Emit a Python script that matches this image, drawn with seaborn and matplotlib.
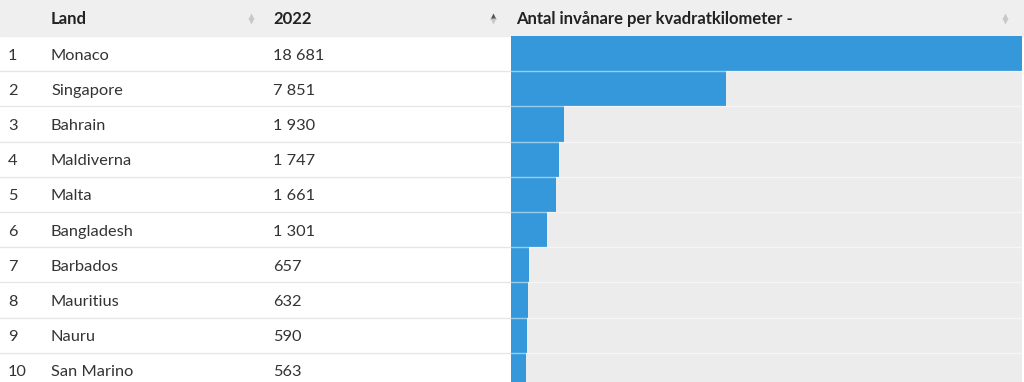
import matplotlib
matplotlib.use("Agg")
import matplotlib.pyplot as plt
from matplotlib.patches import Rectangle
import seaborn as sns

# Data
ranks = [1, 2, 3, 4, 5, 6, 7, 8, 9, 10]
countries = ["Monaco", "Singapore", "Bahrain", "Maldiverna", "Malta",
             "Bangladesh", "Barbados", "Mauritius", "Nauru", "San Marino"]
density = [18681, 7851, 1930, 1747, 1661, 1301, 657, 632, 590, 563]
headers = ["Land", "2022", "Antal invånare per kvadratkilometer -"]

sns.set_theme(style="white")
plt.rcParams['font.family'] = ['Lato', 'DejaVu Sans']

W, H = 1024, 382
head_h = 36
row_h = 35.2
bar_color = "#3498db"
text_color = "#333333"
fs_head = 12
fs_body = 11.8

fig = plt.figure(figsize=(W / 100, H / 100), dpi=100)

# background axes in pixel coordinates for the table part
bg = fig.add_axes([0, 0, 1, 1])
bg.set_xlim(0, W)
bg.set_ylim(H, 0)
bg.axis("off")
bg.add_patch(Rectangle((0, 0), W, head_h, color="#efefef", zorder=0))

# header text
for x, h in zip([51, 273, 516], headers):
    bg.text(x, head_h / 2 + 1, h, fontsize=fs_head, fontweight="bold",
            color="#222222", va="center")

# sort icons
for x, up, down in [(251, "#c8c8c8", "#c8c8c8"), (493, "#555555", "#c8c8c8"),
                    (1005, "#c8c8c8", "#c8c8c8")]:
    bg.plot(x, head_h / 2 - 2.5, marker="^", ms=5, color=up, mec="none")
    bg.plot(x, head_h / 2 + 3, marker="v", ms=5, color=down, mec="none")

# rows
for i, (r, c, v) in enumerate(zip(ranks, countries, density)):
    yc = head_h + (i + 0.5) * row_h + 2
    bg.text(8, yc, str(r), fontsize=fs_body, color=text_color, va="center")
    bg.text(51, yc, c, fontsize=fs_body, color=text_color, va="center")
    bg.text(273, yc, f"{v:,}".replace(",", " "), fontsize=fs_body,
            color=text_color, va="center")
    if i > 0:
        bg.plot([0, 511], [head_h + i * row_h] * 2, color="#e6e6e6", lw=1)

# bar column
left = 511 / W
width = 511 / W
top = (H - head_h) / H
height = len(countries) * row_h / H
ax = fig.add_axes([left, top - height, width, height])
ax.set_facecolor("#ececec")
sns.barplot(x=density, y=countries, orient="h", color=bar_color,
            saturation=1, width=1.0, linewidth=0, ax=ax)
ax.set_xlim(0, max(density))
ax.set_ylim(len(countries) - 0.5, -0.5)
for i in range(1, len(countries)):
    ax.axhline(i - 0.5, color="white", alpha=0.5, lw=1)
ax.set_xlabel("")
ax.set_ylabel("")
ax.set_xticks([])
ax.set_yticks([])
for s in ax.spines.values():
    s.set_visible(False)

fig.savefig("out.png", dpi=100)
